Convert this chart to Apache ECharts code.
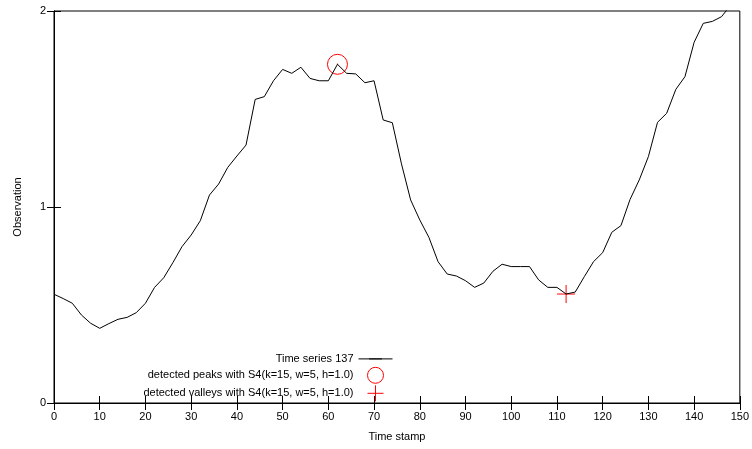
<!DOCTYPE html>
<html>
	<head>
		<meta charset="utf-8">
		<title>Time series 137</title>
		<script src="https://cdn.jsdelivr.net/npm/echarts@6/dist/echarts.min.js" type="text/javascript" charset="utf-8"></script>
		<style>
			html,body{margin:0;padding:0;background:#fff;}
			#chartBox{width:752px;height:449px;}
		</style>
	</head>
	<body>
		<div id="chartBox"></div>
		<script type="text/javascript">
			var timeStamps = [0,2,4,6,8,10,12,14,16,18,20,22,24,26,28,30,32,34,36,38,40,42,44,46,48,50,52,54,56,58,60,62,64,66,68,70,72,74,76,78,80,82,84,86,88,90,92,94,96,98,100,102,104,106,108,110,112,114,116,118,120,122,124,126,128,130,132,134,136,138,140,142,144,146,148];
			var observations = [0.555,0.533,0.509,0.449,0.407,0.381,0.405,0.427,0.437,0.461,0.509,0.590,0.639,0.716,0.798,0.857,0.930,1.061,1.117,1.202,1.260,1.316,1.549,1.563,1.644,1.702,1.682,1.713,1.656,1.644,1.644,1.728,1.682,1.679,1.634,1.644,1.444,1.430,1.220,1.036,0.934,0.845,0.721,0.658,0.648,0.624,0.590,0.612,0.672,0.708,0.696,0.696,0.696,0.628,0.590,0.590,0.556,0.566,0.645,0.721,0.767,0.871,0.905,1.039,1.138,1.257,1.432,1.478,1.600,1.665,1.840,1.937,1.947,1.971,2.030];
			// detected peaks / valleys
			var peakTimes = [62];
			var peakValues = [1.728];
			var valleyTimes = [112];
			var valleyValues = [0.556];
			// axis ticks
			var xTicks = [0,150,10];
			var yTicks = [0,2,1];

			var seriesNames = ['Time series 137','detected peaks with S4(k=15, w=5, h=1.0)','detected valleys with S4(k=15, w=5, h=1.0)'];

			function zip(xs,ys){
				var out = [];
				for(var i = 0; i < xs.length; i++){
					out.push([xs[i],ys[i]]);
				}
				return out;
			}

			var fontName = '"Liberation Sans", Arial, sans-serif';
			var plusPath = 'path://M0,9L18,9M9,0L9,18';
			// horizontal stroke (with tiny corner dots so the box is square) -> legend shows just a line
			var flatPath = 'path://M0,5L10,5M0,0L0,0.01M0,10L0,10.01';

			function mirrorAxis(pos,ticks){
				return {
					type: 'value',
					position: pos,
					min: ticks[0],
					max: ticks[1],
					interval: ticks[2],
					axisLine: {show: true, lineStyle: {color: '#000'}},
					axisTick: {show: true, inside: true, length: 7, lineStyle: {color: '#000'}},
					axisLabel: {show: false},
					splitLine: {show: false}
				};
			}

			var myChart = echarts.init(document.getElementById('chartBox'));
			var option = {
				animation: false,
				textStyle: {fontFamily: fontName},
				grid: {
					left: 54,
					right: 8,
					top: 11,
					bottom: 46,
					show: true,
					borderColor: '#000',
					borderWidth: 1
				},
				legend: {
					orient: 'vertical',
					align: 'right',
					right: 359,
					top: 350,
					padding: 0,
					itemWidth: 34,
					itemHeight: 16,
					itemGap: -1,
					itemStyle: {borderWidth: 1},
					lineStyle: {width: 1},
					textStyle: {fontSize: 11, color: '#000', fontFamily: fontName},
					data: [
						{name: seriesNames[0]},
						{name: seriesNames[1]},
						{name: seriesNames[2]}
					]
				},
				xAxis: [{
					type: 'value',
					min: xTicks[0],
					max: xTicks[1],
					interval: xTicks[2],
					name: 'Time stamp',
					nameLocation: 'middle',
					nameGap: 28,
					nameTextStyle: {fontSize: 11, color: '#000'},
					axisLine: {show: true, lineStyle: {color: '#000'}},
					axisTick: {show: true, inside: true, length: 7, lineStyle: {color: '#000'}},
					axisLabel: {fontSize: 11, color: '#000', margin: 8},
					splitLine: {show: false}
				}, mirrorAxis('top',xTicks)],
				yAxis: [{
					type: 'value',
					min: yTicks[0],
					max: yTicks[1],
					interval: yTicks[2],
					name: 'Observation',
					nameLocation: 'middle',
					nameGap: 31,
					nameRotate: 90,
					nameTextStyle: {fontSize: 11, color: '#000'},
					axisLine: {show: true, lineStyle: {color: '#000'}},
					axisTick: {show: true, inside: true, length: 7, lineStyle: {color: '#000'}},
					axisLabel: {fontSize: 11, color: '#000', margin: 8},
					splitLine: {show: false}
				}, mirrorAxis('right',yTicks)],
				series: [{
					name: seriesNames[0],
					type: 'line',
					data: zip(timeStamps,observations),
					symbol: flatPath,
					showSymbol: false,
					clip: true,
					lineStyle: {color: '#000', width: 1},
					itemStyle: {color: 'none', borderColor: '#000', borderWidth: 1}
				},{
					name: seriesNames[1],
					type: 'scatter',
					data: zip(peakTimes,peakValues),
					symbol: 'circle',
					symbolSize: 20,
					itemStyle: {color: 'rgba(0,0,0,0)', borderColor: '#f00', borderWidth: 1, opacity: 1}
				},{
					// centre dot of the peak marker
					type: 'scatter',
					data: zip(peakTimes,peakValues),
					symbol: 'circle',
					symbolSize: 1.5,
					itemStyle: {color: '#f00'}
				},{
					name: seriesNames[2],
					type: 'scatter',
					data: zip(valleyTimes,valleyValues),
					symbol: plusPath,
					symbolSize: 18,
					itemStyle: {color: 'none', borderColor: '#f00', borderWidth: 1, opacity: 1}
				}]
			};
			myChart.setOption(option);
		</script>
	</body>
</html>
